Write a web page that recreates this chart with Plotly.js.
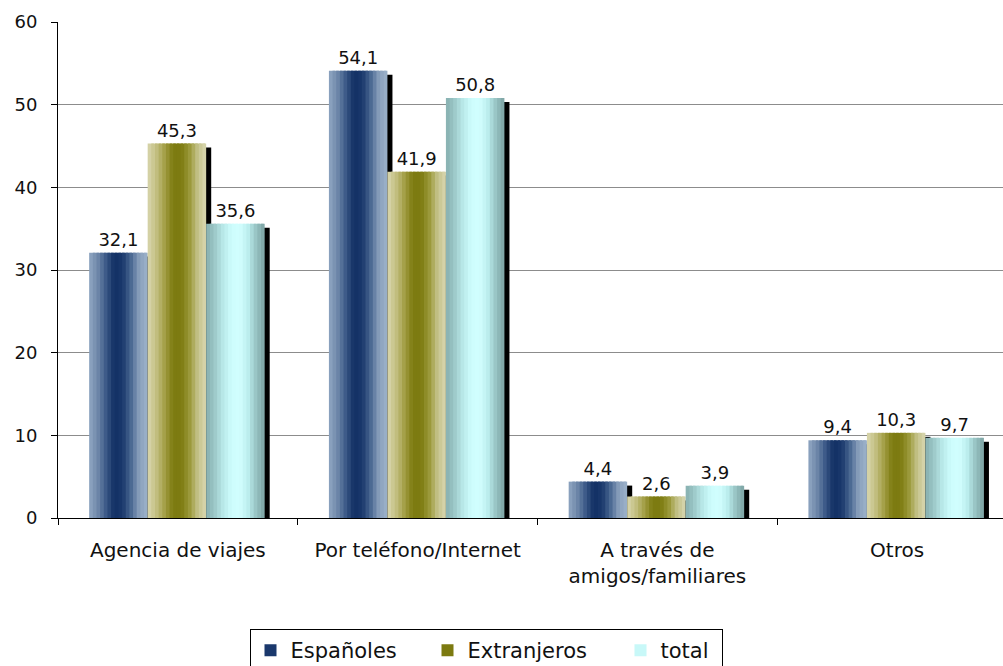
<!DOCTYPE html>
<html><head><meta charset="utf-8">
<script src="https://cdn.plot.ly/plotly-3.0.1.min.js"></script>
<style>html,body{margin:0;padding:0;overflow:hidden;background:#fff}#chart{width:1030px;height:700px}</style>
</head><body><div id="chart"></div>
<script>
// ---- data ----
const categories = ['Agencia de viajes', 'Por teléfono/Internet', 'A través de<br>amigos/familiares', 'Otros'];
const espanoles = [32.1, 54.1, 4.4, 9.4];
const extranjeros = [45.3, 41.9, 2.6, 10.3];
const total = [35.6, 50.8, 3.9, 9.7];
const seriesNames = ['Españoles', 'Extranjeros', 'total'];
const yTickVals = [0, 10, 20, 30, 40, 50, 60];

// ---- styling ----
const gradientAnchors = [
  ['#90a7c2', '#7088aa', '#3c5a88', '#123064', '#1a386c', '#4a6892', '#8aa0bc', '#9cb2ca'],
  ['#d8d6ae', '#c4c084', '#a4a048', '#7e7c12', '#7c7a10', '#9a9838', '#c4c28a', '#d8d6b0'],
  ['#86aeae', '#9cc8c8', '#b8e8e8', '#ccfcfc', '#d2ffff', '#bceeee', '#96c2c2', '#7ca2a2']
];
const legendColors = ['#1a386c', '#7c7a10', '#c8f8f8'];
const offsets = [-0.37, -0.126, 0.118];
const legendWidths = [132, 148, 56];
const W = 0.244, N = 16, SW = W / N;
const FONT = 'DejaVu Sans, Arial, sans-serif';

function hexToRgb(h) { return [1, 3, 5].map(i => parseInt(h.substr(i, 2), 16)); }
function sampleGradient(anchors, t) {
  const p = t * (anchors.length - 1);
  const i = Math.min(Math.floor(p), anchors.length - 2);
  const f = p - i;
  const a = hexToRgb(anchors[i]), b = hexToRgb(anchors[i + 1]);
  const c = a.map((v, j) => Math.round(v + (b[j] - v) * f));
  return 'rgb(' + c.join(',') + ')';
}

const seriesValues = [espanoles, extranjeros, total];
const traces = [];

// shadows (drawn on slightly shifted axis so they sit lower)
seriesValues.forEach((vals, i) => {
  traces.push({
    type: 'bar', x: categories, y: vals, yaxis: 'y',
    offset: offsets[i] + W - 0.004, width: 0.025,
    marker: { color: '#000', line: { width: 0 } },
    showlegend: false, hoverinfo: 'skip'
  });
});

// gradient strips (each overlaps the next one slightly to avoid seams)
seriesValues.forEach((vals, i) => {
  for (let k = 0; k < N; k++) {
    traces.push({
      type: 'bar', x: categories, y: vals, yaxis: 'y2',
      offset: offsets[i] + k * SW, width: Math.min(SW * 1.7, W - k * SW),
      marker: { color: sampleGradient(gradientAnchors[i], (k + 0.5) / N), line: { width: 0 } },
      showlegend: false, hoverinfo: 'skip'
    });
  }
});

// value labels (transparent full-width bars)
seriesValues.forEach((vals, i) => {
  traces.push({
    type: 'bar', x: categories, y: vals, yaxis: 'y2',
    offset: offsets[i], width: W,
    marker: { color: 'rgba(0,0,0,0)', line: { width: 0 } },
    texttemplate: '%{y:.1f}', textposition: 'outside', cliponaxis: false,
    textfont: { family: FONT, size: 18, color: '#111' },
    showlegend: false, hoverinfo: 'skip'
  });
});
// legend entries
seriesValues.forEach((vals, i) => {
  traces.push({
    type: 'bar', x: [null], y: [null], yaxis: 'y2',
    marker: { color: legendColors[i], line: { width: 0 } },
    name: seriesNames[i], showlegend: true, legendwidth: legendWidths[i],
    hoverinfo: 'skip'
  });
});

const layout = {
  width: 1030, height: 700,
  margin: { l: 58, r: 13, t: 22, b: 182 },
  paper_bgcolor: '#fff', plot_bgcolor: '#fff',
  barmode: 'overlay', separators: ',.',
  font: { family: FONT, color: '#111' },
  xaxis: {
    type: 'category', showline: true, linecolor: '#000', linewidth: 1,
    ticks: 'outside', tickson: 'boundaries', ticklen: 6, tickcolor: '#000',
    ticklabelstandoff: 14,
    tickfont: { family: FONT, size: 20, color: '#111' },
    showgrid: false, zeroline: false, fixedrange: true
  },
  yaxis: { range: [0.48, 60.48], visible: false, fixedrange: true },
  yaxis2: {
    overlaying: 'y', side: 'left', range: [0, 60],
    tickvals: yTickVals, ticktext: yTickVals.map(String),
    showgrid: true, gridcolor: '#8c8c8c', gridwidth: 1,
    showline: true, linecolor: '#000', linewidth: 1,
    ticks: 'outside', ticklen: 6, tickcolor: '#000',
    ticklabelstandoff: 10,
    tickfont: { family: FONT, size: 18, color: '#111' },
    zeroline: false, fixedrange: true
  },
  showlegend: true,
  legend: {
    orientation: 'h', x: 0.4463, xanchor: 'center', y: -0.2238, yanchor: 'top',
    bordercolor: '#000', borderwidth: 1, bgcolor: '#fff',
    font: { family: FONT, size: 21, color: '#111' }
  }
};

Plotly.newPlot('chart', traces, layout, { displayModeBar: false, staticPlot: true });
</script>
</body></html>
